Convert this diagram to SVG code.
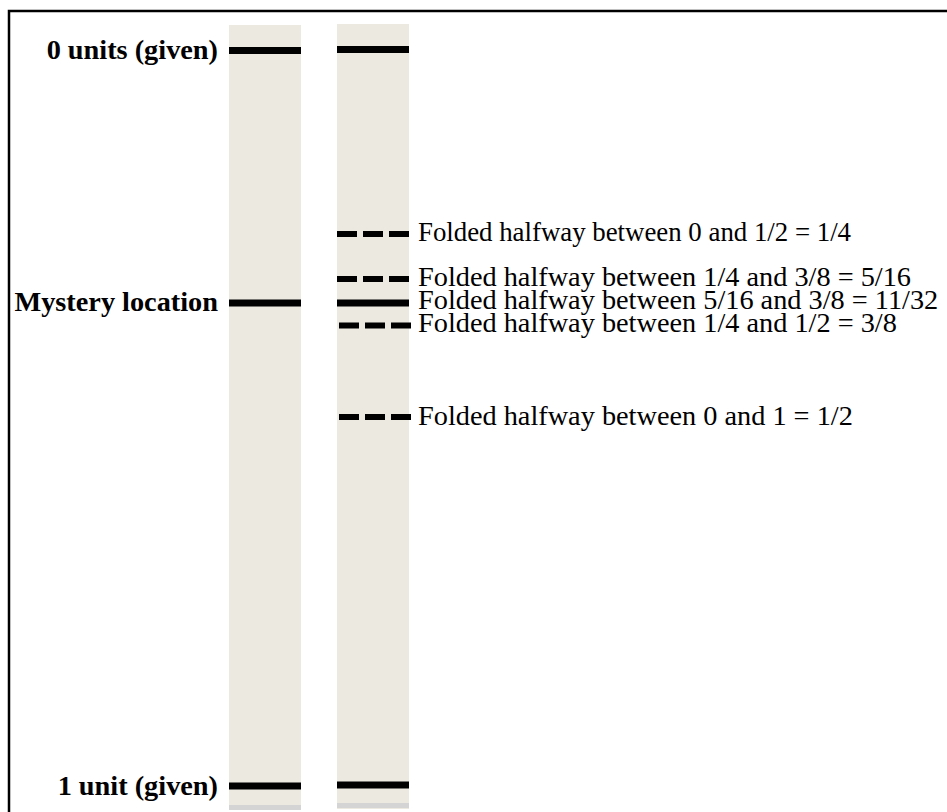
<svg xmlns="http://www.w3.org/2000/svg" width="947" height="812" viewBox="0 0 947 812">
<style>
.strip{fill:#ECE9E0}
.foot{fill:#D4D4D4}
.bar{stroke:#000;stroke-width:7}
.dash{stroke:#000;stroke-width:6;stroke-dasharray:20 6}
.lbl{font-family:"Liberation Serif","Times New Roman",serif;font-size:28.3px;fill:#000}
.blbl{font-family:"Liberation Serif","Times New Roman",serif;font-size:28.3px;font-weight:bold;fill:#000;text-anchor:end}
</style>
<rect x="0" y="0" width="947" height="812" fill="#fff"/>
<rect x="9" y="11" width="960" height="830" fill="#fff" stroke="#000" stroke-width="2.5"/>
<g id="strip-given">
<rect class="strip" x="229" y="25" width="72" height="785"/>
<rect class="foot" x="229" y="805" width="72" height="5"/>
<line class="bar" x1="229" y1="50.5" x2="301" y2="50.5"/>
<line class="bar" x1="229" y1="303" x2="301" y2="303"/>
<line class="bar" x1="229" y1="786" x2="301" y2="786"/>
<text class="blbl" x="218" y="59">0 units (given)</text>
<text class="blbl" x="218" y="311">Mystery location</text>
<text class="blbl" x="218" y="795">1 unit (given)</text>
</g>
<g id="strip-folded">
<rect class="strip" x="337" y="24" width="72" height="785"/>
<rect class="foot" x="337" y="803" width="72" height="5"/>
<line class="bar" x1="337" y1="49.5" x2="409" y2="49.5"/>
<line class="bar" x1="337" y1="785" x2="409" y2="785"/>
</g>
<g id="folds">
<line class="dash" x1="337" y1="234" x2="409" y2="234"/>
<line class="dash" x1="337" y1="279" x2="409" y2="279"/>
<line class="bar" x1="337" y1="303" x2="409" y2="303"/>
<line class="dash" x1="339" y1="325.5" x2="411" y2="325.5"/>
<line class="dash" x1="339" y1="417" x2="411" y2="417"/>
<text class="lbl" x="418" y="241" textLength="433" lengthAdjust="spacingAndGlyphs">Folded halfway between 0 and 1/2 = 1/4</text>
<text class="lbl" x="418" y="286">Folded halfway between 1/4 and 3/8 = 5/16</text>
<text class="lbl" x="418" y="309">Folded halfway between 5/16 and 3/8 = 11/32</text>
<text class="lbl" x="418" y="332">Folded halfway between 1/4 and 1/2 = 3/8</text>
<text class="lbl" x="418" y="425">Folded halfway between 0 and 1 = 1/2</text>
</g>
</svg>
